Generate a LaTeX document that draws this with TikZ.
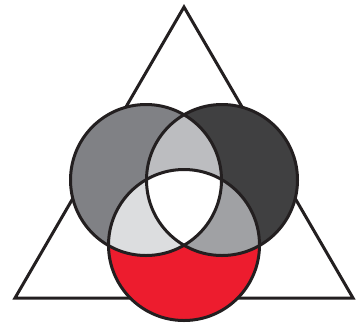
\documentclass[tikz,border=0pt]{standalone}
\usepackage{xcolor}
\usepackage{tikz}
\usetikzlibrary{positioning,calc}
\definecolor{vennred}{RGB}{237,28,46}
\definecolor{inkline}{RGB}{35,31,32}
\definecolor{leftgray}{RGB}{128,129,133}
\definecolor{rightgray}{RGB}{64,64,65}
\definecolor{lrgray}{RGB}{188,189,192}
\definecolor{lbgray}{RGB}{220,221,223}
\definecolor{rbgray}{RGB}{160,161,164}

\begin{document}
\begin{tikzpicture}[x=1pt, y=-1pt,
  outline/.style={draw=inkline, line width=3pt},
  rad/.style={radius=75.5pt}
]
\useasboundingbox (0,0) rectangle (358,325);
% triangle behind the circles
\coordinate (apex) at (184,7);
\coordinate (baseL) at (15,298);
\coordinate (baseR) at (353,298);
\draw[outline, fill=white] (apex) -- (baseL) -- (baseR) -- cycle;
% circle centres
\coordinate (cL) at (146,180);
\coordinate (cR) at (222,180);
\coordinate (cB) at (184,245);
\fill[leftgray] (cL) circle[rad];
\fill[rightgray] (cR) circle[rad];
\fill[vennred] (cB) circle[rad];
% pairwise overlaps
\foreach \a/\b/\c in {cL/cR/lrgray,cL/cB/lbgray,cR/cB/rbgray} {
  \begin{scope}
    \clip (\a) circle[rad];
    \fill[\c] (\b) circle[rad];
  \end{scope}
}
% centre
\begin{scope}
  \clip (cL) circle[rad];
  \clip (cR) circle[rad];
  \fill[white] (cB) circle[rad];
\end{scope}
\foreach \c in {cL,cR,cB}
  \draw[outline] (\c) circle[rad];
\end{tikzpicture}
\end{document}
